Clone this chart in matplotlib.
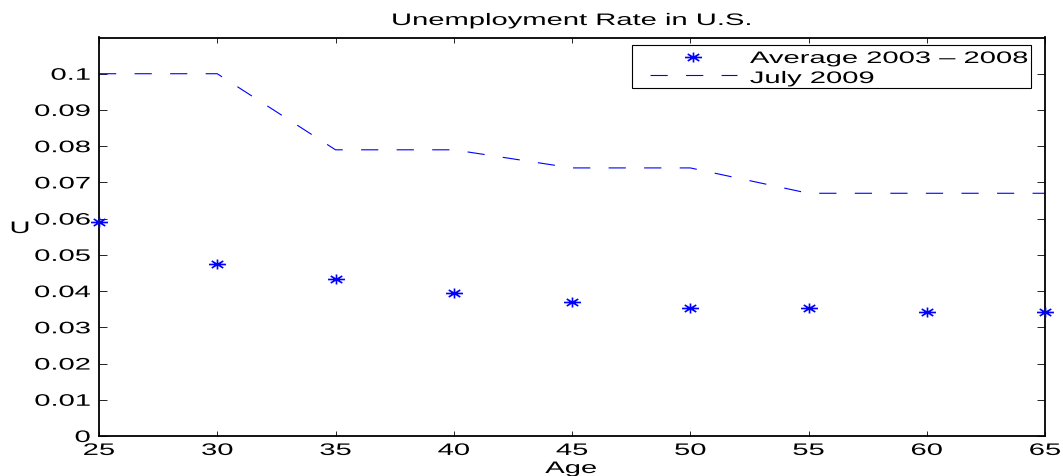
import matplotlib
matplotlib.use("Agg")
import matplotlib.pyplot as plt
from matplotlib.patheffects import AbstractPathEffect
from matplotlib.transforms import Affine2D
from matplotlib.path import Path
from matplotlib.lines import Line2D
from matplotlib.patches import Rectangle

plt.rcParams['font.family'] = ['Liberation Sans', 'DejaVu Sans']

ages = [25, 30, 35, 40, 45, 50, 55, 60, 65]
avg_2003_2008 = [0.059, 0.0474, 0.0432, 0.0396, 0.0371, 0.0352, 0.0352, 0.0341, 0.0341]
july_2009 = [0.100, 0.100, 0.079, 0.079, 0.074, 0.074, 0.067, 0.067, 0.067]
series_labels = ['Average 2003 \u2013 2008', 'July 2009']
x_ticks = [25, 30, 35, 40, 45, 50, 55, 60, 65]
y_ticks = [0, 0.01, 0.02, 0.03, 0.04, 0.05, 0.06, 0.07, 0.08, 0.09, 0.1]
y_tick_labels = ['0', '0.01', '0.02', '0.03', '0.04', '0.05', '0.06', '0.07', '0.08', '0.09', '0.1']

W, H = 1063, 476
SX = 1.75          # horizontal widening of all lettering
FS = 12            # font size in points
BLUE = '#0000ff'


class HStretch(AbstractPathEffect):
    """Widen a text path horizontally about its left, centre or right ink edge."""

    def __init__(self, sx, anchor='center'):
        super().__init__()
        self.sx = sx
        self.anchor = anchor

    def draw_path(self, renderer, gc, tpath, affine, rgbFace=None):
        ext = tpath.get_extents(affine)
        if self.anchor == 'left':
            x0 = ext.x0
        elif self.anchor == 'right':
            x0 = ext.x1
        else:
            x0 = 0.5 * (ext.x0 + ext.x1)
        stretched = affine + Affine2D().translate(-x0, 0).scale(self.sx, 1).translate(x0, 0)
        renderer.draw_path(gc, tpath, stretched, rgbFace)


def fx(px):
    return px / W


def fy(py):
    return 1 - py / H


def ftext(px, py, s, anchor='center', **kw):
    return fig.text(fx(px), fy(py), s, fontsize=kw.pop('fontsize', FS),
                    ha=anchor, va='baseline',
                    path_effects=[HStretch(SX, anchor)], **kw)


# asterisk marker, wider than tall
ast_verts = [(-1, 0), (1, 0), (0, -0.59), (0, 0.59),
             (-0.68, -0.41), (0.68, 0.41), (-0.68, 0.41), (0.68, -0.41)]
ast_codes = [Path.MOVETO, Path.LINETO] * 4
asterisk = Path(ast_verts, ast_codes)
marker_kw = dict(marker=asterisk, markersize=12.2, markeredgewidth=1.2,
                 markeredgecolor=BLUE, markerfacecolor='none', linestyle='none')
dash_lw = 0.8
dash_style = (0, (15.5, 16.5))

fig = plt.figure(figsize=(W / 100, H / 100), dpi=100)
ax = fig.add_axes([fx(99), fy(436), fx(1045) - fx(99), fy(37.5) - fy(436)])

ax.plot(ages, avg_2003_2008, clip_on=False, zorder=3, **marker_kw)
ax.plot(ages, july_2009, linestyle=dash_style, linewidth=dash_lw, color=BLUE)

ax.set_xlim(25, 65)
ax.set_ylim(0, 0.11)
ax.set_xticks(x_ticks)
ax.set_xticklabels([str(v) for v in x_ticks], fontsize=FS)
ax.set_yticks(y_ticks)
ax.set_yticklabels(y_tick_labels, fontsize=FS)
ax.tick_params(direction='in', width=0.6, top=True, right=True)
ax.tick_params(axis='x', length=3.6, pad=5)
ax.tick_params(axis='y', length=5.8, pad=6.3)
for lab in ax.get_xticklabels():
    lab.set_path_effects([HStretch(SX, 'center')])
for lab in ax.get_yticklabels():
    lab.set_path_effects([HStretch(SX, 'right')])
for sp in ax.spines.values():
    sp.set_linewidth(1.3)

# title and axis labels
ftext(571.5, 25, 'Unemployment Rate in U.S.')
ftext(571, 473, 'Age')
ftext(20, 233, 'U')

# legend box
fig.add_artist(Rectangle((fx(632), fy(88)), fx(1031) - fx(632), fy(45) - fy(88),
                         transform=fig.transFigure, facecolor='white',
                         edgecolor='black', linewidth=0.8, zorder=5))
fig.add_artist(Line2D([fx(693)], [fy(57)], transform=fig.transFigure,
                      zorder=6, **marker_kw))
fig.add_artist(Line2D([fx(650), fx(737)], [fy(75), fy(75)], transform=fig.transFigure,
                      linestyle=dash_style, linewidth=dash_lw, color=BLUE, zorder=6))
ftext(750, 63, series_labels[0], anchor='left', zorder=6)
ftext(750, 83, series_labels[1], anchor='left', zorder=6)

fig.savefig('out.png', dpi=100)
